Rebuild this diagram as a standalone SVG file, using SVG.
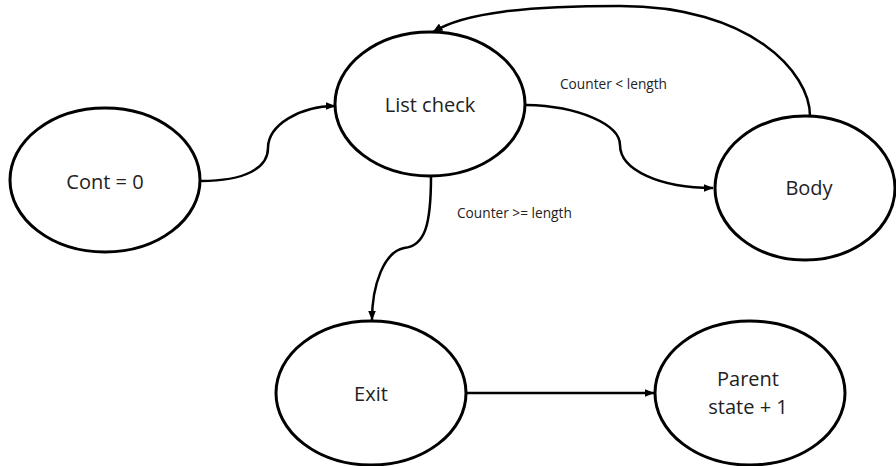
<svg xmlns="http://www.w3.org/2000/svg" width="896" height="466" viewBox="0 0 896 466">
<defs>
<style>
.node ellipse{fill:#fff;stroke:#000;stroke-width:3}
.node text{font-family:"Open Sans","Liberation Sans",sans-serif;font-size:20px;fill:#222;text-anchor:middle}
.edge{fill:none;stroke:#000;stroke-width:2.5;marker-end:url(#arr)}
.lbl{font-family:"Open Sans","Liberation Sans",sans-serif;font-size:13.7px;fill:#222}
</style>
<marker id="arr" viewBox="0 0 10 8" refX="9.5" refY="4" markerWidth="4" markerHeight="3.2" markerUnits="strokeWidth" orient="auto">
<path d="M0,0 L10,4 L0,8 Z" fill="#000"/>
</marker>
</defs>
<rect width="896" height="466" fill="#fff"/>
<g id="connectors">
<path class="edge" d="M201,181 C245,181 268,168 268,148 C268,125 300,106 335,106"/>
<path class="edge" d="M526,105 C580,106 620,125 620,145 C620,170 660,188 713,188"/>
<path class="edge" d="M810,116 C810,72 750,6 620,6 C530,6 465,12 433,32"/>
<path class="edge" d="M431,176 C431,225 425,246 404,248 C384,252 372,285 372,320"/>
<path class="edge" d="M467,393 L654,393"/>
</g>
<g id="labels">
<text class="lbl" x="560" y="89">Counter &lt; length</text>
<text class="lbl" x="457" y="218">Counter &gt;= length</text>
</g>
<g id="cont" class="node">
<ellipse cx="105" cy="180" rx="95" ry="72"/>
<text x="105" y="189">Cont = 0</text>
</g>
<g id="listcheck" class="node">
<ellipse cx="430" cy="104" rx="95" ry="72"/>
<text x="430" y="112">List check</text>
</g>
<g id="body" class="node">
<ellipse cx="805" cy="188" rx="90" ry="72"/>
<text x="809" y="195">Body</text>
</g>
<g id="exit" class="node">
<ellipse cx="371" cy="393" rx="95" ry="72"/>
<text x="371" y="401">Exit</text>
</g>
<g id="parent" class="node">
<ellipse cx="750" cy="393" rx="95" ry="72"/>
<text x="748" y="386">Parent</text>
<text x="748" y="414">state + 1</text>
</g>
</svg>
